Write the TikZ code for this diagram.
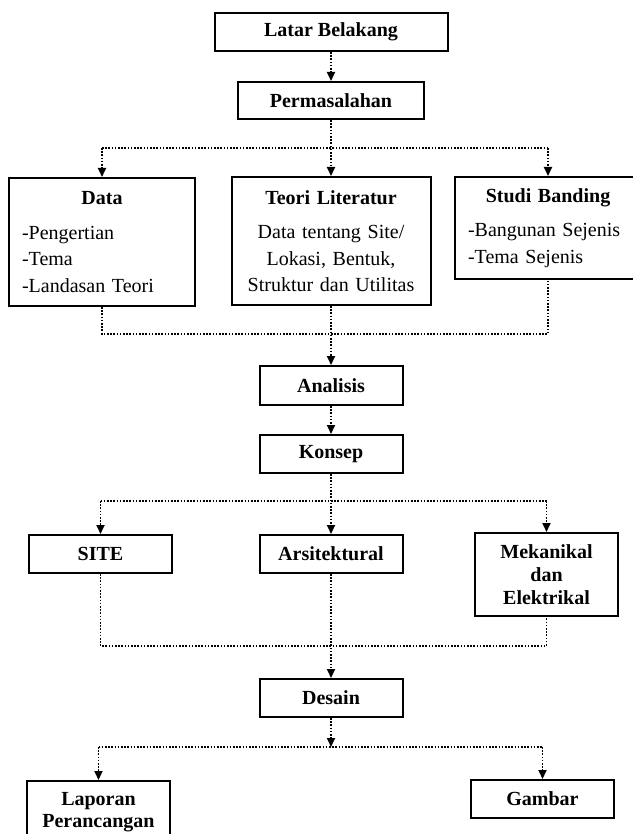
\documentclass[tikz,border=0pt]{standalone}
\usepackage{fontspec}
\setmainfont{Liberation Serif}
\usetikzlibrary{arrows.meta,positioning}

\begin{document}
\begin{tikzpicture}[x=1pt, y=-1pt,
    font=\fontsize{20}{26.5}\selectfont,
    box/.style={draw, line width=2pt, minimum width=143pt, minimum height=38pt, inner sep=4pt, align=center, font=\fontsize{20}{23}\selectfont\bfseries},
    listbox/.style={draw, line width=2pt, minimum height=128pt, inner xsep=13pt, text width=160pt, align=left},
    wire/.style={line width=1.8pt, dash pattern=on 1.6pt off 1.6pt},
    flow/.style={wire, -{Triangle[length=9pt, width=8pt]}}
]
\useasboundingbox (0,0) rectangle (632,834);

\node[box, minimum width=233pt] (latar) at (331,32) {Latar Belakang};
\node[box, minimum width=186pt, minimum height=37pt] (masalah) at (331,100.5) {Permasalahan};

\node[listbox] (data) at (102,242) {\hspace*{\fill}\textbf{Data}\hspace*{\fill}\mbox{}\\[8pt]-Pengertian\\-Tema\\-Landasan Teori};
\node[listbox, text width=173pt, align=center] (teori) at (331,241) {\textbf{Teori Literatur}\\[8pt]Data tentang Site/\\Lokasi, Bentuk,\\Struktur dan Utilitas};
\node[listbox, minimum height=102pt] (studi) at (548,228) {\hspace*{\fill}\textbf{Studi Banding}\hspace*{\fill}\mbox{}\\[8pt]-Bangunan Sejenis\\-Tema Sejenis};

\node[box, minimum height=39pt] (analisis) at (331,385.5) {Analisis};
\node[box] (konsep) at (331,454) {Konsep};

\node[box] (site) at (100.5,554) {SITE};
\node[box] (arsi) at (331,554) {Arsitektural};
\node[box, minimum height=83pt] (meka) at (546.5,574.5) {Mekanikal\\dan\\Elektrikal};

\node[box] (desain) at (331,698) {Desain};

\node[box, minimum height=62pt, font=\fontsize{20}{22}\selectfont\bfseries] (laporan) at (98.5,812) {Laporan\\Perancangan};
\node[box] (gambar) at (542.5,799) {Gambar};

% junctions
\coordinate (split1) at (331,148);
\coordinate (join1) at (331,334);
\coordinate (split2) at (331,501);
\coordinate (join2) at (331,646);
\coordinate (split3) at (331,747);

\draw[flow] (latar) -- (masalah);
\draw[flow] (masalah) -- (teori);
\draw[wire] (data.north |- split1) -- (studi.north |- split1);
\draw[flow] (data.north |- split1) -- (data);
\draw[flow] (studi.north |- split1) -- (studi);

\draw[wire] (data) |- (join1) -| (studi);
\draw[flow] (teori) -- (analisis);
\draw[flow] (analisis) -- (konsep);

\draw[flow] (konsep) -- (arsi);
\draw[wire] (site.north |- split2) -- (meka.north |- split2);
\draw[flow] (site.north |- split2) -- (site);
\draw[flow] (meka.north |- split2) -- (meka);

\draw[wire] (site) |- (join2) -| (meka);
\draw[flow] (arsi) -- (desain);

\draw[flow] (desain) -- (split3);
\draw[wire] (laporan.north |- split3) -- (gambar.north |- split3);
\draw[flow] (laporan.north |- split3) -- (laporan);
\draw[flow] (gambar.north |- split3) -- (gambar);

\end{tikzpicture}
\end{document}
